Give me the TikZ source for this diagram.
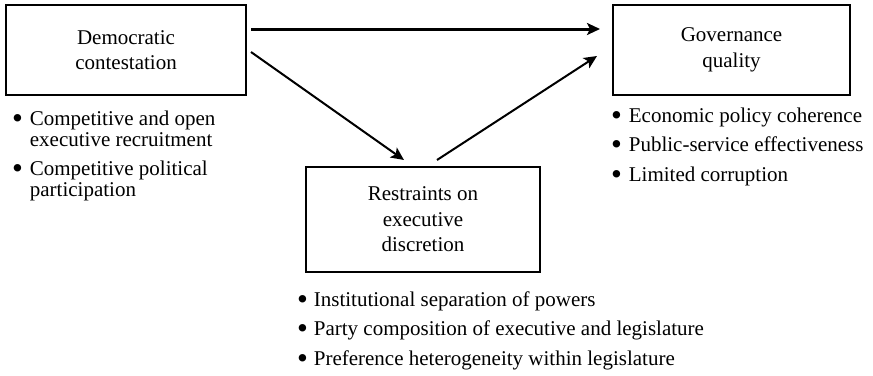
\documentclass[tikz,border=0pt]{standalone}
\usepackage{fontspec}
\setmainfont{Liberation Serif}
\usetikzlibrary{arrows.meta}

\newcommand{\bigbul}{\raisebox{-1.6pt}{\fontsize{15.5}{15.5}\selectfont\textbullet}}

\begin{document}
\begin{tikzpicture}[x=0.5pt,y=-0.5pt,
    box/.style={draw, line width=1.4pt, outer sep=0pt, inner sep=0pt, align=center,
        font=\fontsize{10.5}{12.75}\selectfont},
    list/.style={inner sep=0pt, outer sep=0pt, anchor=base west,
        font=\fontsize{10.5}{10.5}\selectfont},
    link/.style={-{Stealth[length=6.5pt,width=6pt,inset=1.5pt]}, line width=1pt}]
                \useasboundingbox (0,0) rectangle (873,375);

                \node[box, minimum width=120pt, minimum height=45pt] (dem) at (126,50) {Democratic\\contestation};
                \node[box, minimum width=118.5pt, minimum height=45pt] (gov) at (731.5,50) {Governance\\quality};
                \node[box, minimum width=117pt, minimum height=52.5pt] (res) at (423,219.5) {Restraints on\\executive\\discretion};

                \node[list] (demlist) at (12,125) {\begin{tabular}[t]{@{}l@{\hspace{3.5pt}}l@{}}
                    \bigbul & Competitive and open\\
                            & executive recruitment\\[4.25pt]
                    \bigbul & Competitive political\\
                            & participation
                \end{tabular}};
                \node[list] (govlist) at (611,122) {\begin{tabular}[t]{@{}l@{\hspace{3.5pt}}l@{}}
                    \bigbul & Economic policy coherence\\[4.25pt]
                    \bigbul & Public-service effectiveness\\[4.25pt]
                    \bigbul & Limited corruption
                \end{tabular}};
                \node[list] (reslist) at (297,306) {\begin{tabular}[t]{@{}l@{\hspace{3pt}}l@{}}
                    \bigbul & Institutional separation of powers\\[4.25pt]
                    \bigbul & Party composition of executive and legislature\\[4.25pt]
                    \bigbul & Preference heterogeneity within legislature
                \end{tabular}};

                % direct and indirect paths
                \draw[link, line width=1.5pt] ([shift={(5,-21)}]dem.east) -- ([shift={(-13,-21)}]gov.west);
                \draw[link] ([shift={(5,2)}]dem.east) -- ([shift={(-19,-7)}]res.north);
                \draw[link] ([shift={(14,-7)}]res.north) -- ([shift={(-16,6)}]gov.west);

            \end{tikzpicture}
\end{document}
